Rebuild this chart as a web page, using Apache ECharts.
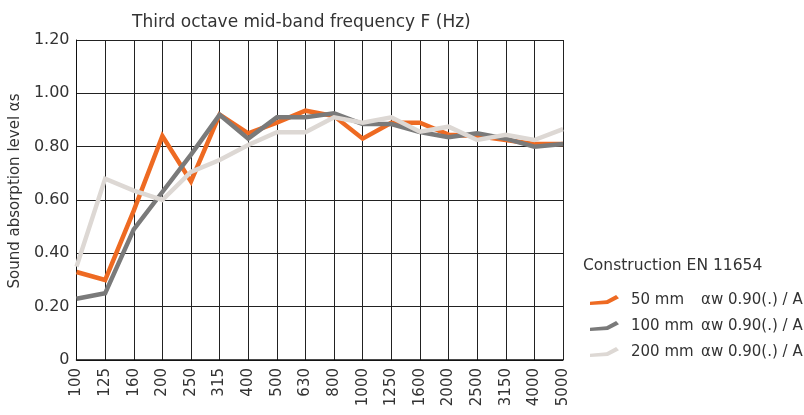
<!DOCTYPE html>
<html>
<head>
<meta charset="utf-8">
<script src="https://cdn.jsdelivr.net/npm/echarts@6/dist/echarts.min.js"></script>
<style>
html,body{margin:0;padding:0;background:#fff;}
#chart{width:804px;height:415px;}
</style>
</head>
<body>
<div id="chart"></div>
<script>
const categories = ['100','125','160','200','250','315','400','500','630','800','1000','1250','1600','2000','2500','3150','4000','5000'];
const yTicks = [0, 0.2, 0.4, 0.6, 0.8, 1.0, 1.2];
const s50  = [0.33, 0.30, 0.56, 0.84, 0.67, 0.92, 0.85, 0.89, 0.935, 0.915, 0.83, 0.89, 0.89, 0.845, 0.84, 0.825, 0.81, 0.81];
const s100 = [0.23, 0.25, 0.49, 0.63, 0.77, 0.92, 0.83, 0.91, 0.91, 0.925, 0.885, 0.885, 0.855, 0.835, 0.85, 0.83, 0.80, 0.81];
const s200 = [0.35, 0.68, 0.635, 0.60, 0.705, 0.75, 0.806, 0.854, 0.854, 0.91, 0.89, 0.91, 0.856, 0.875, 0.825, 0.845, 0.825, 0.866];
const seriesNames = ['50 mm', '100 mm', '200 mm'];
const ratingText = 'αw 0.90(.) / A';

const FONT = 'DejaVu Sans';
const colors = ['#EE6A22', '#7A7A7A', '#DDD8D4'];
const iconPath = 'path://M0,7 L17,5.5 L27,0 L30,3.5 L18.5,9.5 L0,10.5 Z';

const chart = echarts.init(document.getElementById('chart'), null, {renderer: 'canvas'});
const mk = (name, data, i) => ({
  name: name, type: 'line', data: data, symbol: 'none', z: 2 + i,
  lineStyle: {color: colors[i], width: 4.5, join: 'miter'},
  itemStyle: {color: colors[i]}
});
chart.setOption({
  animation: false,
  backgroundColor: '#fff',
  textStyle: {fontFamily: FONT},
  title: {
    text: 'Third octave mid-band frequency F (Hz)',
    left: 127, top: 9,
    textStyle: {fontFamily: FONT, fontSize: 17, fontWeight: 'normal', color: '#333'}
  },
  graphic: [{
    type: 'text', left: 583, top: 258,
    style: {text: 'Construction EN 11654', font: '15.5px "' + FONT + '"', fill: '#333'}
  }],
  legend: {
    orient: 'vertical', left: 585, top: 286,
    itemWidth: 29, itemHeight: 11, itemGap: 8,
    icon: iconPath,
    data: seriesNames,
    formatter: function (n) { return '{g|}{a|' + n + '}{b|' + ratingText + '}'; },
    textStyle: {
      fontFamily: FONT, fontSize: 15, color: '#333', lineHeight: 18,
      rich: {
        g: {width: 7},
        a: {width: 70, fontSize: 15, fontFamily: FONT, color: '#333'},
        b: {fontSize: 15, fontFamily: FONT, color: '#333'}
      }
    }
  },
  grid: {left: 75, right: 241, top: 40, bottom: 55, show: false},
  xAxis: {
    type: 'category', data: categories, boundaryGap: false,
    axisLine: {show: true, lineStyle: {color: '#111', width: 1.5}},
    axisTick: {show: false},
    axisLabel: {rotate: 90, margin: 8, fontSize: 15, color: '#333', fontFamily: FONT, interval: 0},
    splitLine: {show: true, lineStyle: {color: '#222', width: 1}}
  },
  yAxis: {
    type: 'value', min: 0, max: 1.2, interval: 0.2,
    name: 'Sound absorption level αs', nameLocation: 'middle', nameGap: 46,
    nameTextStyle: {fontSize: 15, color: '#333', fontFamily: FONT, padding: [0, 0, 0, 18]},
    axisLine: {show: true, lineStyle: {color: '#111', width: 1}},
    axisTick: {show: false},
    axisLabel: {
      margin: 7, fontSize: 16, color: '#333', fontFamily: FONT,
      formatter: function (v) {
        const t = yTicks.find(x => Math.abs(x - v) < 1e-9);
        if (t === undefined) return '';
        return t === 0 ? '0' : t.toFixed(2);
      }
    },
    splitLine: {show: true, lineStyle: {color: '#222', width: 1}}
  },
  series: [mk(seriesNames[0], s50, 0), mk(seriesNames[1], s100, 1), mk(seriesNames[2], s200, 2)]
});
</script>
</body>
</html>
